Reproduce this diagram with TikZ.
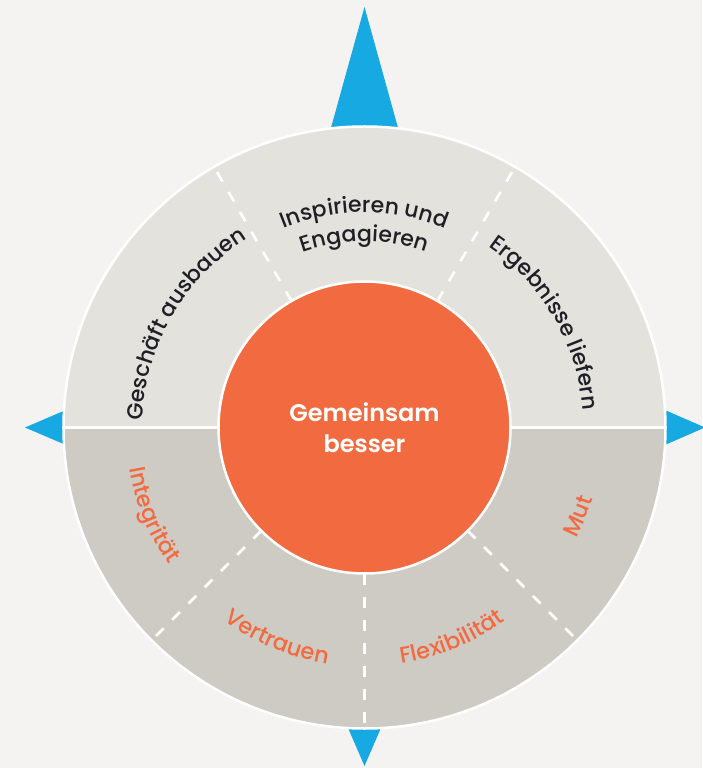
\documentclass[tikz,border=0pt]{standalone}
\usepackage{fontspec}
\setmainfont{Poppins}
\newfontfamily\midfont{Poppins Medium}
\newfontfamily\semifont{Poppins SemiBold}
\usetikzlibrary{decorations.text}
\definecolor{bgc}{HTML}{F4F3F1}
\definecolor{upc}{HTML}{E4E2DD}
\definecolor{loc}{HTML}{CECAC4}
\definecolor{orc}{HTML}{F26B40}
\definecolor{blc}{HTML}{17A9E1}
\definecolor{dkc}{HTML}{1F1F26}
\begin{document}
\begin{tikzpicture}[x=1pt,y=1pt,
  arrowtri/.style={fill=blc, draw=none},
  ringline/.style={draw=white, line width=2.5pt},
  divider/.style={draw=white, line width=2.6pt, dash pattern=on 11pt off 12pt},
]
% background and bounding box
\fill[bgc] (-364.5,427.5) rectangle (337.5,-340.5);
\useasboundingbox (-364.5,427.5) rectangle (337.5,-340.5);

% compass arrows
\fill[arrowtri] (0,420.5) -- (36.2,290) -- (-36.2,290) -- cycle;
\fill[arrowtri] (-339.5,0) -- (-290,21.2) -- (-290,-21.2) -- cycle;
\fill[arrowtri] (340.5,0) -- (290,22) -- (290,-22) -- cycle;
\fill[arrowtri] (0,-338.5) -- (21,-290) -- (-21,-290) -- cycle;

% ring halves
\fill[upc] (0:301) arc[start angle=0, end angle=180, radius=301] -- cycle;
\fill[loc] (180:301) arc[start angle=180, end angle=360, radius=301] -- cycle;

% dividers
\coordinate (c) at (0,0);
\foreach \a in {60,120,225,270,315}{
  \draw[divider] (\a:146) -- (\a:300);
}
\coordinate (hl) at (180:301);
\coordinate (hr) at (0:301);
\draw[ringline] (hl) -- (hr);
\draw[ringline] (c) circle[radius=301];

% core
\node[circle, fill=orc, draw=white, line width=2.5pt, minimum size=292pt, inner sep=0pt,
      text=white, align=center, font=\semifont\fontsize{24}{31}\selectfont] (core) at (c) {Gemeinsam\\besser};

% upper labels (curved, tops outward)
\path[decorate, decoration={text along path, text align=center, text color=dkc,
  text={|\midfont\fontsize{22}{22}\selectfont|Geschäft ausbauen}}]
  (180:222) arc[start angle=180, end angle=120, radius=222];
\path[decorate, decoration={text along path, text align=center, text color=dkc,
  text={|\midfont\fontsize{22}{22}\selectfont|Inspirieren und}}]
  (150:215) arc[start angle=150, end angle=30, radius=215];
\path[decorate, decoration={text along path, text align=center, text color=dkc,
  text={|\midfont\fontsize{22}{22}\selectfont|Engagieren}}]
  (150:186) arc[start angle=150, end angle=30, radius=186];
\path[decorate, decoration={text along path, text align=center, text color=dkc,
  text={|\midfont\fontsize{22}{22}\selectfont|Ergebnisse liefern}}]
  (60:219) arc[start angle=60, end angle=0, radius=219];

% lower labels (curved, tops inward)
\path[decorate, decoration={text along path, text align=center, text color=orc,
  text={|\midfont\fontsize{22.5}{22.5}\selectfont|Integrität}}]
  (180:239) arc[start angle=180, end angle=225, radius=239];
\path[decorate, decoration={text along path, text align=center, text color=orc,
  text={|\midfont\fontsize{22.5}{22.5}\selectfont|Vertrauen}}]
  (225:239) arc[start angle=225, end angle=270, radius=239];
\path[decorate, decoration={text along path, text align=center, text color=orc,
  text={|\midfont\fontsize{22.5}{22.5}\selectfont|Flexibilität}}]
  (270:239) arc[start angle=270, end angle=315, radius=239];
\path[decorate, decoration={text along path, text align=center, text color=orc,
  text={|\midfont\fontsize{22.5}{22.5}\selectfont|Mut}}]
  (315:239) arc[start angle=315, end angle=360, radius=239];
\end{tikzpicture}
\end{document}
